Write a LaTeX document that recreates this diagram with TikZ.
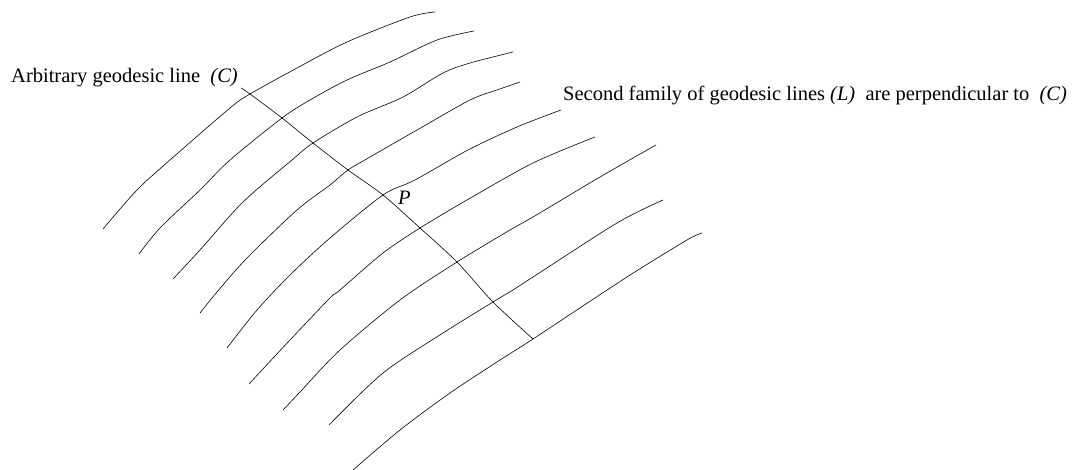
\documentclass[tikz,border=0pt]{standalone}
\usepackage{fontspec}
\setmainfont{Liberation Serif}
\usetikzlibrary{positioning}
\tikzset{
  geo/.style={line width=0.6pt, line cap=round, line join=round},
  lab/.style={font=\fontsize{20.5}{23}\selectfont, inner sep=0pt, anchor=base west}
}
\begin{document}
\begin{tikzpicture}[x=1pt, y=-1pt]
    \useasboundingbox (0,0) rectangle (1072,470);

    % Ho duong trac dia thu hai (L)
    \draw[geo] plot[smooth] coordinates {(103,229) (137,190) (170,160) (230,108) (250,94) (297,68) (347,42) (410,17) (435,12)};
    \draw[geo] plot[smooth] coordinates {(139,254) (160,228) (200,190) (230,160) (282,118) (310,100) (347,80) (390,62) (437,40) (474,31)};
    \draw[geo] plot[smooth] coordinates {(173,279) (200,250) (243,202) (292,160) (313,143) (357,117) (403,97) (443,73) (470,63) (513,52)};
    \draw[geo] plot[smooth] coordinates {(200,313) (217,292) (247,258) (297,210) (330,185) (348,170) (370,157) (417,130) (470,100) (497,90) (520,82)};
    \draw[geo] plot[smooth] coordinates {(227,348) (257,310) (290,275) (330,238) (383,195) (415,180) (468,150) (517,127) (561,110)};
    \draw[geo] plot[smooth] coordinates {(249,384) (290,340) (330,298) (340,290) (383,253) (420,228) (467,200) (533,163) (595,137)};
    \draw[geo] plot[smooth] coordinates {(283,410) (300,392) (340,350) (400,300) (457,262) (510,230) (533,217) (600,177) (656,145)};
    \draw[geo] plot[smooth] coordinates {(329,425) (383,373) (443,333) (493,302) (513,290) (533,277) (617,223) (663,200)};
    \draw[geo] plot[smooth] coordinates {(353,470) (400,430) (450,393) (500,360) (533,339) (627,277) (687,240) (702,233)};

    % Duong trac dia (C)
    \coordinate (P) at (383,195);
    \draw[geo] plot[smooth] coordinates {(241,88) (250,94) (282,118) (313,143) (348,170) (P) (420,228) (457,262) (493,302) (533,339)};

    % Nhan
    \node[lab] (arbC) at (11,83) {Arbitrary geodesic line \ \textit{(C)}};
    \node[lab] (famL) at (563,101) {Second family of geodesic lines \textit{(L)} \ are perpendicular to \ \textit{(C)}};
    \node[lab] (ptext) at (398,205) {\textit{P}};
\end{tikzpicture}
\end{document}
